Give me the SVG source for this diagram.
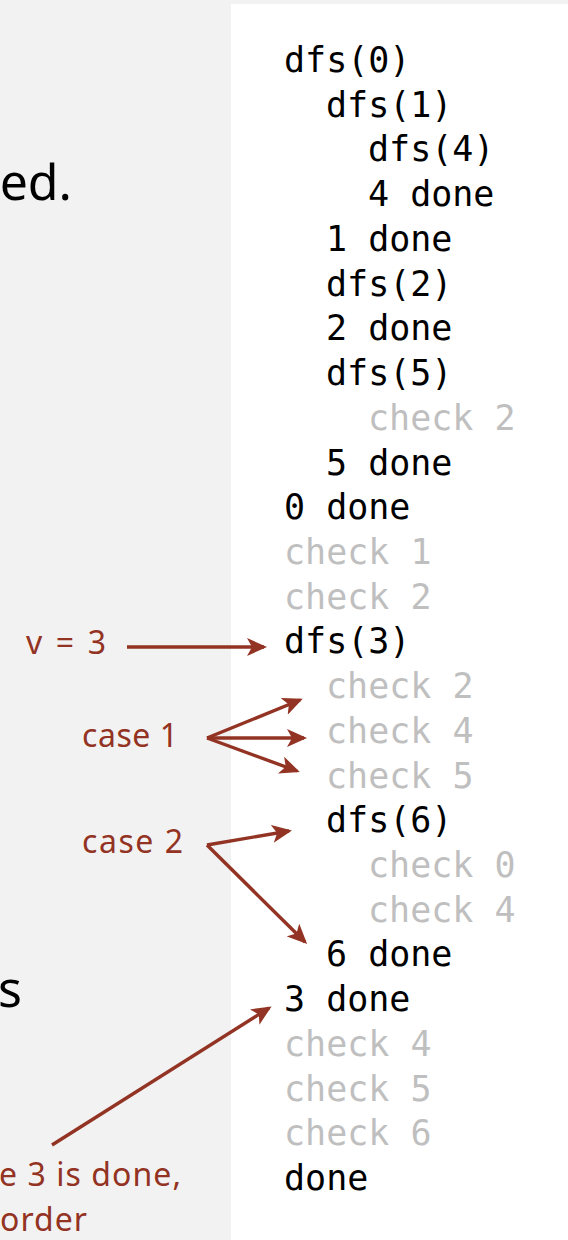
<svg xmlns="http://www.w3.org/2000/svg" width="568" height="1240" viewBox="0 0 568 1240">
<style>
.mono{font-family:"DejaVu Sans Mono","Liberation Mono",monospace;font-size:35px}
.k{fill:#000}
.g{fill:#bfbfbf}
.big{font-family:"Noto Sans","DejaVu Sans",sans-serif;font-size:50px;fill:#000}
.red{font-family:"Noto Sans","DejaVu Sans",sans-serif;font-size:32px;fill:#923323}
.arr{stroke:#923323;stroke-width:3.4;fill:none;marker-end:url(#ah)}
</style>
<defs>
<marker id="ah" viewBox="0 0 20 18" refX="17" refY="9" markerWidth="20" markerHeight="18" markerUnits="userSpaceOnUse" orient="auto">
<path d="M0,0 L20,9 L0,18 L5,9 z" fill="#923323"/>
</marker>
</defs>
<rect x="0" y="0" width="568" height="1240" fill="#f2f2f2"/>
<rect x="231" y="4" width="337" height="1236" fill="#ffffff"/>
<g id="left-text">
<text class="big" x="72" y="200" text-anchor="end">ed.</text>
<text class="big" x="22" y="1007" text-anchor="end">s</text>
</g>
<g id="label-v3"><text class="red" x="26" y="654" textLength="80" lengthAdjust="spacing">v = 3</text></g>
<g id="label-case1"><text class="red" x="82" y="747" textLength="96" lengthAdjust="spacing">case 1</text></g>
<g id="label-case2"><text class="red" x="82" y="853" textLength="101" lengthAdjust="spacing">case 2</text></g>
<g id="label-done">
<text class="red" x="-1" y="1186" textLength="182" lengthAdjust="spacing">e 3 is done,</text>
<text class="red" x="0" y="1231" textLength="87" lengthAdjust="spacing">order</text>
</g>
<g id="trace" class="mono">
<text class="k" x="284" y="72">dfs(0)</text>
<text class="k" x="326" y="116.7">dfs(1)</text>
<text class="k" x="368" y="161.4">dfs(4)</text>
<text class="k" x="368" y="206.2">4 done</text>
<text class="k" x="326" y="250.9">1 done</text>
<text class="k" x="326" y="295.6">dfs(2)</text>
<text class="k" x="326" y="340.3">2 done</text>
<text class="k" x="326" y="385">dfs(5)</text>
<text class="g" x="368" y="429.8">check 2</text>
<text class="k" x="326" y="474.5">5 done</text>
<text class="k" x="284" y="519.2">0 done</text>
<text class="g" x="284" y="563.9">check 1</text>
<text class="g" x="284" y="608.6">check 2</text>
<text class="k" x="284" y="653.4">dfs(3)</text>
<text class="g" x="326" y="698.1">check 2</text>
<text class="g" x="326" y="742.8">check 4</text>
<text class="g" x="326" y="787.5">check 5</text>
<text class="k" x="326" y="832.2">dfs(6)</text>
<text class="g" x="368" y="877">check 0</text>
<text class="g" x="368" y="921.7">check 4</text>
<text class="k" x="326" y="966.4">6 done</text>
<text class="k" x="284" y="1011.1">3 done</text>
<text class="g" x="284" y="1055.8">check 4</text>
<text class="g" x="284" y="1100.6">check 5</text>
<text class="g" x="284" y="1145.3">check 6</text>
<text class="k" x="284" y="1190">done</text>
</g>
<g id="connectors">
<line class="arr" x1="127" y1="647" x2="264" y2="647"/>
<line class="arr" x1="207" y1="738" x2="300" y2="700"/>
<line class="arr" x1="207" y1="738" x2="304" y2="738"/>
<line class="arr" x1="207" y1="738" x2="297" y2="771"/>
<line class="arr" x1="207" y1="845" x2="289" y2="831"/>
<line class="arr" x1="207" y1="845" x2="305" y2="942"/>
<line class="arr" x1="52" y1="1145" x2="269" y2="1008"/>
</g>
</svg>
